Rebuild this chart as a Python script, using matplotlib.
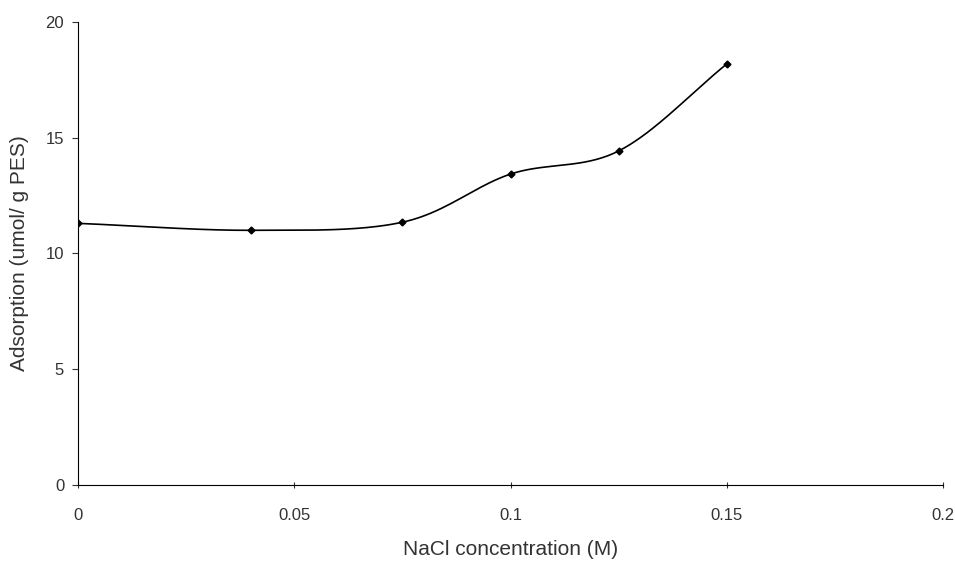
import numpy as np
import matplotlib.pyplot as plt

plt.rcParams['font.family'] = ['Liberation Sans', 'DejaVu Sans']

nacl = [0, 0.04, 0.075, 0.1, 0.125, 0.15]
adsorption = [11.3, 11.0, 11.35, 13.43, 14.43, 18.19]
x_ticks = [0, 0.05, 0.1, 0.15, 0.2]
x_tick_labels = ['0', '0.05', '0.1', '0.15', '0.2']
y_ticks = [0, 5, 10, 15, 20]


def smooth(x, y, n=40):
    # Catmull-Rom style smoothing like the spreadsheet "smoothed line"
    x = np.asarray(x, float)
    y = np.asarray(y, float)
    px = np.concatenate([[2 * x[0] - x[1]], x, [2 * x[-1] - x[-2]]])
    py = np.concatenate([[2 * y[0] - y[1]], y, [2 * y[-1] - y[-2]]])
    xs, ys = [], []
    t = np.linspace(0, 1, n)
    for i in range(1, len(px) - 2):
        for p, out in ((px, xs), (py, ys)):
            p0, p1, p2, p3 = p[i - 1], p[i], p[i + 1], p[i + 2]
            out.extend(0.5 * (2 * p1 + (-p0 + p2) * t
                              + (2 * p0 - 5 * p1 + 4 * p2 - p3) * t ** 2
                              + (-p0 + 3 * p1 - 3 * p2 + p3) * t ** 3))
    return xs, ys


fig = plt.figure(figsize=(9.55, 5.62), dpi=100)
ax = fig.add_axes([0.0817, 0.137, 0.906, 0.824])

sx, sy = smooth(nacl, adsorption)
ax.plot(sx, sy, color='black', lw=1.2)
ax.plot(nacl, adsorption, 'D', color='black', ms=3.5)

ax.set_xlim(0, 0.2)
ax.set_ylim(0, 20)
ax.set_xticks(x_ticks)
ax.set_xticklabels(x_tick_labels)
ax.set_yticks(y_ticks)
ax.spines['top'].set_visible(False)
ax.spines['right'].set_visible(False)
ax.spines['left'].set_linewidth(0.8)
ax.spines['bottom'].set_linewidth(0.8)
ax.tick_params(axis='x', direction='inout', length=5, pad=14, labelsize=12, colors='#333333')
ax.tick_params(axis='y', direction='out', length=4, pad=6, labelsize=12, colors='#333333')
ax.set_xlabel('NaCl concentration (M)', fontsize=15, color='#333333', labelpad=12)
ax.set_ylabel('Adsorption (umol/ g PES)', fontsize=15, color='#333333', labelpad=12)

fig.savefig('out.png', dpi=100)
